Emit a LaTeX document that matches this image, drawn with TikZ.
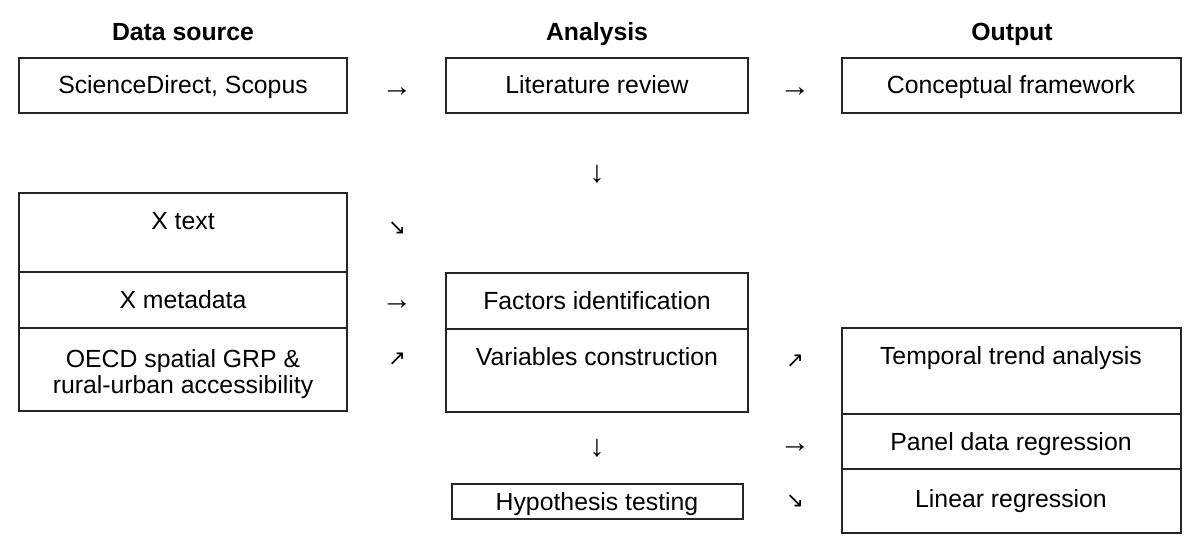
\documentclass[tikz,border=0pt]{standalone}
\usepackage{fontspec}
\setmainfont{Liberation Sans}
\newfontfamily\arrowfont{DejaVu Sans}
\usetikzlibrary{fit}
\begin{document}
\begin{tikzpicture}[x=0.75pt,y=-0.75pt,
  box/.style={draw=black!85,line width=0.9pt,inner sep=0pt},
  lbl/.style={anchor=base,inner sep=0pt,font=\fontsize{18.6}{22}\selectfont},
  hdr/.style={anchor=base,inner sep=0pt,font=\fontsize{18.6}{22}\selectfont\bfseries},
  arr/.style={anchor=base,inner sep=0pt,font=\fontsize{23}{27}\selectfont},
  darr/.style={anchor=base,inner sep=0pt,font=\fontsize{16}{19}\selectfont\arrowfont}]
\useasboundingbox (0,0) rectangle (1200,552);
% headers
\node[hdr] (h1) at (183,41) {Data source};
\node[hdr] (h2) at (597,41) {Analysis};
\node[hdr] (h3) at (1012,41) {Output};
% row 1
\node[box,fit={(19,58) (347,113)}] (b11) {};
\node[box,fit={(446,58) (748,113)}] (b12) {};
\node[box,fit={(842,58) (1181,113)}] (b13) {};
\node[lbl] (t11) at (183,94) {ScienceDirect, Scopus};
\node[lbl] (t12) at (597,94) {Literature review};
\node[lbl] (t13) at (1011,94) {Conceptual framework};
\node[arr] (a11) at (397,97) {→};
\node[arr] (a12) at (795,97) {→};
\node[arr] (a2) at (597,183) {↓};
% left stack
\node[box,fit={(19,193) (347,272)}] (l1) {};
\node[box,fit={(19,272) (347,328)}] (l2) {};
\node[box,fit={(19,328) (347,411)}] (l3) {};
\node[lbl] (lt1) at (183,230) {X text};
\node[lbl] (lt2) at (183,309) {X metadata};
\node[lbl] (lt3) at (183,368) {OECD spatial GRP \&};
\node[lbl] (lt4) at (183,393) {rural-urban accessibility};
\node[darr] (la1) at (397,235) {↘};
\node[arr] (la2) at (397,310) {→};
\node[darr] (la3) at (397,366) {↗};
% middle stack
\node[box,fit={(446,273) (748,329)}] (m1) {};
\node[box,fit={(446,329) (748,412)}] (m2) {};
\node[lbl] (mt1) at (597,310) {Factors identification};
\node[lbl] (mt2) at (597,366) {Variables construction};
\node[darr] (ma1) at (795,368) {↗};
\node[arr] (ma2) at (597,456) {↓};
% right stack
\node[box,fit={(842,328) (1181,414)}] (r1) {};
\node[box,fit={(842,414) (1181,469)}] (r2) {};
\node[box,fit={(842,469) (1181,533)}] (r3) {};
\node[lbl] (rt1) at (1011,365) {Temporal trend analysis};
\node[lbl] (rt2) at (1011,450) {Panel data regression};
\node[lbl] (rt3) at (1011,507) {Linear regression};
\node[arr] (ra2) at (795,452) {→};
\node[darr] (ra3) at (795,507) {↘};
% hypothesis
\node[box,fit={(452,484) (743,519)}] (hy) {};
\node[lbl] (hyt) at (597,510) {Hypothesis testing};
\end{tikzpicture}
\end{document}
